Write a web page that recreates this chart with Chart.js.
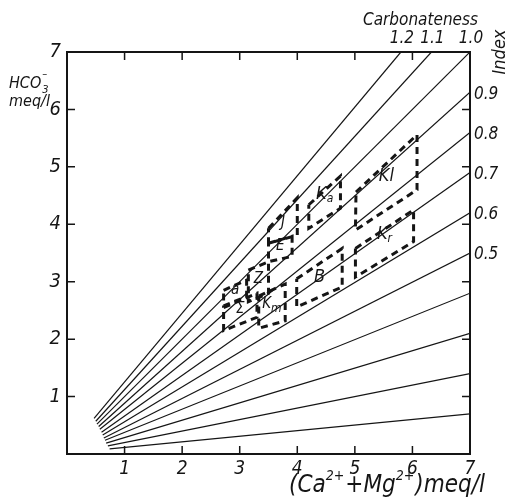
<!DOCTYPE html>
<html>
<head>
<meta charset="utf-8">
<script src="https://cdn.jsdelivr.net/npm/chart.js@4.4.0/dist/chart.umd.min.js"></script>
<style>
  html, body { margin: 0; padding: 0; background: #fff; }
  #wrap { width: 515px; height: 498px; position: relative; }
</style>
</head>
<body>
<div id="wrap"><canvas id="myChart" width="515" height="498"></canvas></div>
<script>
// === DATA ===
// index of each fan line (1.2 .. 0.1)
const indexLabels = ['1.2', '1.1', '1.0', '0.9', '0.8', '0.7', '0.6', '0.5', '0.4', '0.3', '0.2', '0.1'];
// where each line starts (near the origin) and where it leaves the frame
const lineStartX = [0.47, 0.50, 0.52, 0.55, 0.57, 0.60, 0.62, 0.64, 0.66, 0.68, 0.71, 0.74];
const lineStartY = [0.62, 0.57, 0.52, 0.48, 0.43, 0.38, 0.33, 0.28, 0.24, 0.19, 0.14, 0.09];
const lineEndX = [5.80, 6.33, 7, 7, 7, 7, 7, 7, 7, 7, 7, 7];
const lineEndY = [7, 7, 7, 6.3, 5.6, 4.9, 4.2, 3.5, 2.8, 2.1, 1.4, 0.7];
// which index labels are printed (top: carbonateness, right: index)
const topLabels = ['1.2', '1.1', '1.0'];
const rightLabels = ['0.9', '0.8', '0.7', '0.6', '0.5'];

const axisTicks = [1, 2, 3, 4, 5, 6, 7];

// dashed areas: corners TL, TR, BR, BL
const boxNames = ['K', 'K', 'K', 'B', 'J', 'E', 'Z', 'a', 'Σ', 'K'];
const boxSubs  = ['l', 'a', 'r', '', '', '', '', '', '', 'm'];
const boxX = [
  [5.02, 6.08, 6.08, 5.01],
  [4.20, 4.75, 4.75, 4.20],
  [5.01, 6.02, 6.02, 5.01],
  [3.99, 4.78, 4.78, 3.99],
  [3.50, 4.00, 4.00, 3.50],
  [3.50, 3.91, 3.91, 3.50],
  [3.15, 3.50, 3.50, 3.15],
  [2.72, 3.12, 3.12, 2.72],
  [2.72, 3.30, 3.30, 2.72],
  [3.33, 3.79, 3.79, 3.33]
];
const boxY = [
  [4.56, 5.56, 4.60, 3.90],
  [4.34, 4.84, 4.28, 3.93],
  [3.58, 4.25, 3.70, 3.08],
  [3.05, 3.58, 2.91, 2.56],
  [3.93, 4.46, 3.81, 3.67],
  [3.67, 3.79, 3.44, 3.35],
  [3.20, 3.35, 2.80, 2.65],
  [2.85, 3.03, 2.74, 2.58],
  [2.55, 2.80, 2.38, 2.15],
  [2.75, 2.96, 2.32, 2.19]
];

const FONT = '"DejaVu Sans Condensed", "Liberation Sans Narrow", sans-serif';
const INK = '#151515';

document.addEventListener("DOMContentLoaded", function () {
  const datasets = [];

  // fan lines
  indexLabels.forEach((lab, i) => {
    datasets.push({
      label: 'index ' + lab,
      data: [{ x: lineStartX[i], y: lineStartY[i] }, { x: lineEndX[i], y: lineEndY[i] }],
      borderColor: INK,
      borderWidth: 1.2,
      pointRadius: 0,
      fill: false,
      tension: 0,
    });
  });

  // dashed boxes (closed polygons)
  boxNames.forEach((name, i) => {
    const pts = boxX[i].map((x, k) => ({ x: x, y: boxY[i][k] }));
    pts.push(pts[0]);
    datasets.push({
      label: name + boxSubs[i],
      data: pts,
      borderColor: INK,
      borderWidth: 3,
      borderDash: [7, 5],
      pointRadius: 0,
      fill: false,
      tension: 0,
    });
  });

  // plugin: frame, inward ticks, extra labels and titles
  const decorations = {
    id: 'decorations',
    afterDatasetsDraw(chart) {
      const ctx = chart.ctx;
      const a = chart.chartArea;
      const xs = chart.scales.x;
      const ys = chart.scales.y;
      ctx.save();
      ctx.strokeStyle = INK;
      ctx.fillStyle = INK;

      // frame
      ctx.lineWidth = 2;
      ctx.strokeRect(a.left, a.top, a.right - a.left, a.bottom - a.top);

      // inward ticks
      ctx.lineWidth = 1.5;
      ctx.beginPath();
      axisTicks.slice(0, 6).forEach(v => {
        const px = xs.getPixelForValue(v);
        ctx.moveTo(px, a.bottom); ctx.lineTo(px, a.bottom - 8);
        ctx.moveTo(px, a.top); ctx.lineTo(px, a.top + 8);
        const py = ys.getPixelForValue(v);
        ctx.moveTo(a.left, py); ctx.lineTo(a.left + 8, py);
        ctx.moveTo(a.right, py); ctx.lineTo(a.right - 8, py);
      });
      ctx.stroke();

      // top (carbonateness) labels
      ctx.font = 'italic 17px ' + FONT;
      ctx.textAlign = 'center';
      ctx.textBaseline = 'alphabetic';
      topLabels.forEach(lab => {
        const i = indexLabels.indexOf(lab);
        ctx.fillText(lab, xs.getPixelForValue(lineEndX[i]) + 1, a.top - 9);
      });

      // right (index) labels
      ctx.textAlign = 'left';
      ctx.textBaseline = 'middle';
      rightLabels.forEach(lab => {
        const i = indexLabels.indexOf(lab);
        ctx.fillText(lab, a.right + 4, ys.getPixelForValue(lineEndY[i]) + 2);
      });

      // box labels at each box centre
      boxNames.forEach((name, i) => {
        const cx = boxX[i].reduce((s, v) => s + v, 0) / 4;
        const cy = boxY[i].reduce((s, v) => s + v, 0) / 4;
        const px = xs.getPixelForValue(cx);
        const py = ys.getPixelForValue(cy) - (i < 3 ? 10 : 3);
        const big = i < 4 ? 18 : 15;
        ctx.textBaseline = 'middle';
        ctx.textAlign = 'left';
        ctx.font = 'italic ' + big + 'px ' + FONT;
        if (boxSubs[i] === 'l') {
          ctx.fillText(name + boxSubs[i], px - ctx.measureText(name + 'l').width / 2, py);
          return;
        }
        const w = ctx.measureText(name).width;
        ctx.font = 'italic 12px ' + FONT;
        const ws = boxSubs[i] ? ctx.measureText(boxSubs[i]).width : 0;
        const x0 = px - (w + ws) / 2;
        ctx.font = 'italic ' + big + 'px ' + FONT;
        ctx.fillText(name, x0, py);
        if (boxSubs[i]) {
          ctx.font = 'italic 12px ' + FONT;
          ctx.fillText(boxSubs[i], x0 + w, py + 5);
        }
      });

      // axis titles
      ctx.textBaseline = 'alphabetic';
      ctx.textAlign = 'left';
      ctx.font = 'italic 16px ' + FONT;
      ctx.fillText('HCO', 9, 88);
      const hw = ctx.measureText('HCO').width;
      ctx.font = 'italic 11px ' + FONT;
      ctx.fillText('3', 9 + hw + 1, 93);
      ctx.fillText('\u2013', 9 + hw + 1, 77);
      ctx.font = 'italic 16px ' + FONT;
      ctx.fillText('meq/l', 9, 106);

      ctx.font = 'italic 17px ' + FONT;
      ctx.fillText('Carbonateness', 363, 25);

      // bottom title with superscripts
      let x = 289;
      const by = 492;
      const parts = [['(Ca', 0], ['2+', 1], ['+Mg', 0], ['2+', 1], [')meq/l', 0]];
      parts.forEach(p => {
        ctx.font = 'italic ' + (p[1] ? 14 : 24) + 'px ' + FONT;
        ctx.fillText(p[0], x, p[1] ? by - 12 : by);
        x += ctx.measureText(p[0]).width + (p[1] ? 1 : 0);
      });

      // rotated "Index"
      ctx.save();
      ctx.translate(505, 52);
      ctx.rotate(-Math.PI / 2);
      ctx.font = 'italic 18px ' + FONT;
      ctx.textAlign = 'center';
      ctx.fillText('Index', 0, 0);
      ctx.restore();

      ctx.restore();
    }
  };

  const ctx = document.getElementById("myChart");
  new Chart(ctx, {
    type: "line",
    data: { datasets: datasets },
    options: {
      responsive: false,
      animation: false,
      layout: { padding: { top: 52, right: 45, left: 0, bottom: 0 } },
      plugins: {
        legend: { display: false },
        tooltip: { enabled: false },
      },
      scales: {
        x: {
          type: 'linear',
          min: 0,
          max: 7,
          afterFit: function (scale) { scale.height = 44; },
          afterBuildTicks: function (scale) { scale.ticks = axisTicks.map(v => ({ value: v })); },
          grid: { display: false, drawTicks: false },
          border: { display: false },
          ticks: {
            padding: 4,
            color: INK,
            font: { family: FONT, size: 19, style: 'italic' },
            maxRotation: 0,
            callback: function (value) { return value; },
          },
        },
        y: {
          type: 'linear',
          min: 0,
          max: 7,
          afterFit: function (scale) { scale.width = 67; },
          afterBuildTicks: function (scale) { scale.ticks = axisTicks.map(v => ({ value: v })); },
          grid: { display: false, drawTicks: false },
          border: { display: false },
          ticks: {
            padding: 6,
            color: INK,
            font: { family: FONT, size: 20, style: 'italic' },
            callback: function (value) { return value; },
          },
        },
      },
    },
    plugins: [decorations],
  });
});
</script>
</body>
</html>
